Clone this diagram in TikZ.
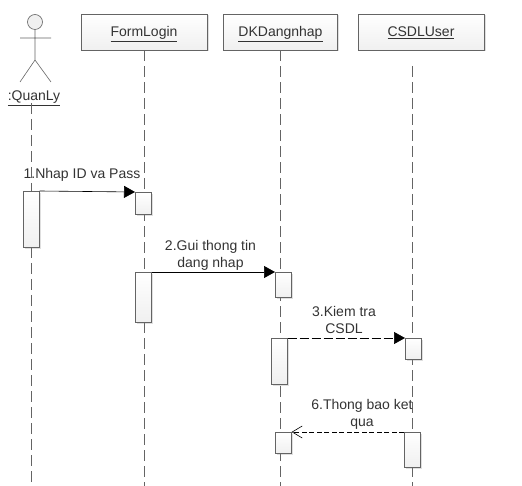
\documentclass[tikz,border=0pt]{standalone}
\usepackage{fontspec}
\setmainfont{Liberation Sans}
\usetikzlibrary{arrows.meta,shadows}
\definecolor{linegray}{RGB}{100,100,100}
\tikzset{
  headbox/.style={draw=linegray,semithick,top color=white,bottom color=black!6,
    minimum height=36pt,inner sep=0pt,text height=11pt,text depth=1pt,
    font=\fontsize{14}{16}\selectfont\color{black!80},
    drop shadow={shadow xshift=1.5pt,shadow yshift=-1.5pt,opacity=0.25}},
  actbox/.style={draw=linegray,semithick,top color=white,bottom color=black!6,
    minimum width=16pt,inner sep=0pt,anchor=north west,
    drop shadow={shadow xshift=1.5pt,shadow yshift=-1.5pt,opacity=0.25}},
  lifeline/.style={draw=linegray,semithick,dash pattern=on 11pt off 5pt},
  msg/.style={black,semithick,-{Triangle[length=11pt,width=12pt]}},
  msgback/.style={black,semithick,dash pattern=on 5pt off 2.5pt,-{Straight Barb[length=10pt,width=12pt]}},
  msglabel/.style={align=center,inner sep=0pt,font=\fontsize{14}{17}\selectfont\color{black!80}}
}
\begin{document}
\begin{tikzpicture}[x=1pt,y=-1pt]
  \useasboundingbox (0,0) rectangle (522,486);
  % lifeline heads
  \node[headbox,minimum width=126pt] (formlogin) at (144,32) {\underline{FormLogin}};
  \node[headbox,minimum width=114pt] (dkdangnhap) at (280.5,32) {\underline{DKDangnhap}};
  \node[headbox,minimum width=126pt] (csdluser) at (421,32) {\underline{CSDLUser}};
  % actor
  \node[circle,draw=linegray,semithick,fill=black!6,minimum size=15pt,inner sep=0pt] (head) at (35,22) {};
  \coordinate (hip) at (35,60);
  \coordinate (armL) at (20,38);
  \coordinate (armR) at (51,38);
  \coordinate (footL) at (20,82);
  \coordinate (footR) at (51,82);
  \draw[draw=linegray,semithick] (head) -- (hip) (armL) -- (armR) (footL) -- (hip) -- (footR);
  \node[msglabel] (quanly) at (34,98) {\underline{:QuanLy}};

  \coordinate (endA) at (31,486);
  \coordinate (endB) at (144,486);
  \coordinate (endC) at (280.5,486);
  \coordinate (endD) at (412,486);
  \coordinate (startA) at (31,103);
  \coordinate (startD) at (412,66);
  \draw[lifeline] (startA) -- (endA);
  \draw[lifeline] (formlogin.south) -- (endB);
  \draw[lifeline] (dkdangnhap.south) -- (endC);
  \draw[lifeline] (startD) -- (endD);

  % activations
  \node[actbox,minimum height=56pt] (actA) at (23,191) {};
  \node[actbox,minimum height=22pt] (actB1) at (135,192) {};
  \node[actbox,minimum height=50pt] (actB2) at (135,272) {};
  \node[actbox,minimum height=25pt] (actC1) at (275,272) {};
  \node[actbox,minimum height=46pt] (actC2) at (271,338) {};
  \node[actbox,minimum height=21pt] (actC3) at (275,432) {};
  \node[actbox,minimum height=21pt] (actD1) at (405,338) {};
  \node[actbox,minimum height=35pt] (actD2) at (404,432) {};

  % messages
  \draw[msg] (actA.north east) -- (actB1.north west);
  \draw[msg] (actB2.north east) -- (actC1.north west);
  \draw[msg,dash pattern=on 9pt off 3pt] (actC2.north east) -- (actD1.north west);
  \draw[msgback] (actD2.north west) -- (actC3.north east);

  \node[msglabel] (lab1) at (82,175) {1.Nhap ID va Pass};
  \node[msglabel] (lab2) at (210.5,255) {2.Gui thong tin\\dang nhap};
  \node[msglabel] (lab3) at (344,320) {3.Kiem tra\\CSDL};
  \node[msglabel] (lab4) at (362,414) {6.Thong bao ket\\qua};
\end{tikzpicture}
\end{document}
